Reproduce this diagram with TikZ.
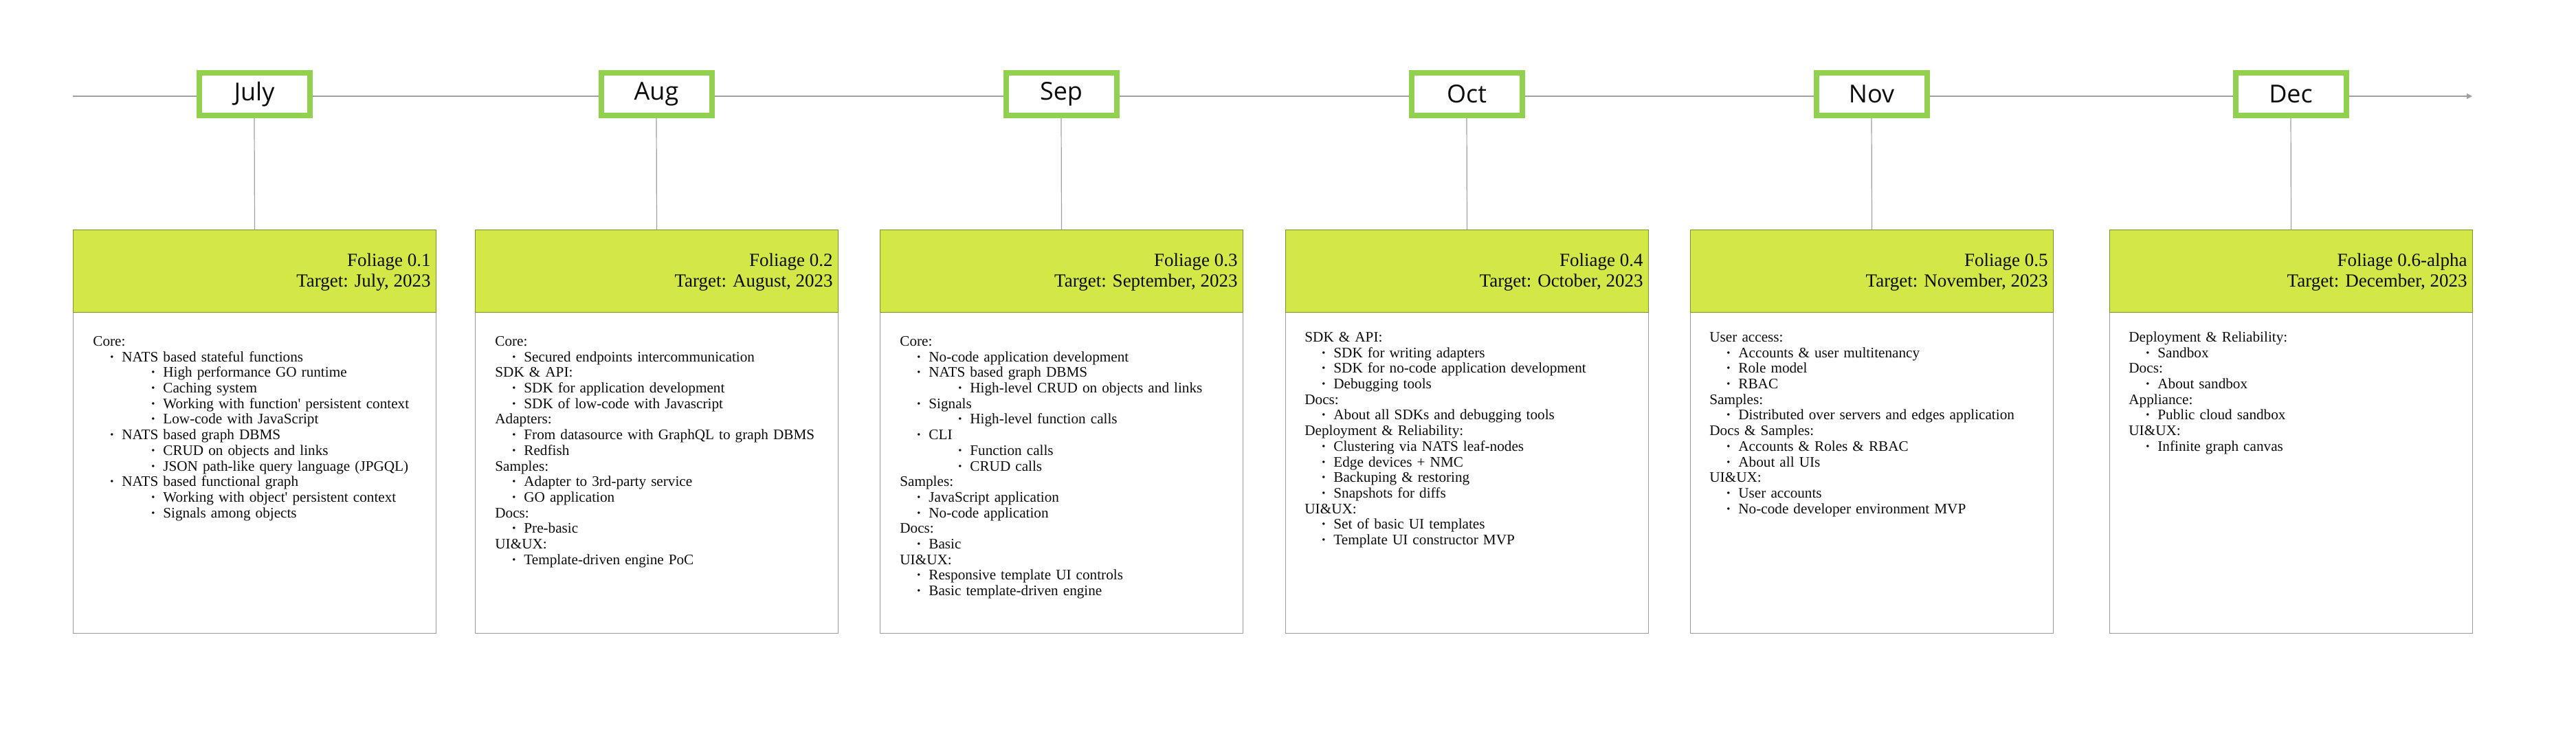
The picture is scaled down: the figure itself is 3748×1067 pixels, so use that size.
\documentclass[tikz,border=0pt]{standalone}
\usepackage{fontspec}
\setmainfont{Liberation Serif}
\newfontfamily\monthfont{Open Sans}
\usetikzlibrary{arrows.meta}
\definecolor{mgreen}{RGB}{146,208,80}
\definecolor{hdrfill}{RGB}{211,232,70}
\definecolor{hdrline}{RGB}{125,145,45}
\definecolor{tline}{RGB}{160,160,160}
\definecolor{cardline}{RGB}{155,155,155}
\definecolor{txt}{RGB}{12,12,12}
\newcommand\Dot{{\bfseries\textperiodcentered}}
\newcommand\Cat[1]{\noindent\rule{0pt}{8pt}#1\par}
\newcommand\Ba[1]{\noindent\rule{0pt}{8pt}\hspace*{12pt}\makebox[9pt][l]{\Dot}#1\par}
\newcommand\Bb[1]{\noindent\rule{0pt}{8pt}\hspace*{42pt}\makebox[9pt][l]{\Dot}#1\par}
\tikzset{
  monthbox/.style={draw=mgreen, line width=4pt, fill=white, minimum width=80.5pt, minimum height=31pt, inner sep=0pt, font=\monthfont\fontsize{18}{20}\selectfont, text=txt},
  cardbox/.style={draw=cardline, line width=0.6pt, fill=white, minimum width=264pt, minimum height=293.5pt, inner sep=0pt},
  hdrbox/.style={draw=hdrline, line width=0.5pt, fill=hdrfill, minimum width=264pt, minimum height=60pt, inner sep=0pt},
  titletext/.style={anchor=north east, align=right, inner sep=0pt, text=txt, font=\fontsize{13.5}{15}\selectfont},
  bodytext/.style={anchor=north west, inner sep=0pt, text=txt, text width=245pt, font=\fontsize{10.6}{11.35}\selectfont},
  conn/.style={draw=tline, line width=0.6pt}
}
\begin{document}
\begin{tikzpicture}[x=0.5pt,y=-0.5pt]
\useasboundingbox (0,0) rectangle (3748,1067);
% timeline
\coordinate (tlstart) at (106,140);
\coordinate (tlend) at (3597,140);
\draw[conn, -{Triangle[length=4pt,width=4pt]}] (tlstart) -- (tlend);
% cards
\foreach \i/\x in {1/106, 2/691, 3/1280, 4/1870, 5/2459, 6/3069}{
  \node[cardbox, anchor=north west] (c\i) at (\x,334) {};
  \node[hdrbox, anchor=north west] (h\i) at (\x,334) {};
}
% month boxes
\node[monthbox] (mJul) at (370,137) {July};
\node[monthbox] (mAug) at (955,137) {Aug};
\node[monthbox] (mSep) at (1544,137) {Sep};
\node[monthbox] (mOct) at (2134,137) {Oct};
\node[monthbox] (mNov) at (2723,137) {Nov};
\node[monthbox] (mDec) at (3333,137) {Dec};
\draw[conn] (mJul.south) -- (h1.north);
\draw[conn] (mAug.south) -- (h2.north);
\draw[conn] (mSep.south) -- (h3.north);
\draw[conn] (mOct.south) -- (h4.north);
\draw[conn] (mNov.south) -- (h5.north);
\draw[conn] (mDec.south) -- (h6.north);
% titles
\node[titletext] (t1) at (627,367) {\rule{0pt}{10pt}Foliage 0.1\\Target: July, 2023};
\node[titletext] (t2) at (1212,367) {\rule{0pt}{10pt}Foliage 0.2\\Target: August, 2023};
\node[titletext] (t3) at (1801,367) {\rule{0pt}{10pt}Foliage 0.3\\Target: September, 2023};
\node[titletext] (t4) at (2391,367) {\rule{0pt}{10pt}Foliage 0.4\\Target: October, 2023};
\node[titletext] (t5) at (2980,367) {\rule{0pt}{10pt}Foliage 0.5\\Target: November, 2023};
\node[titletext] (t6) at (3590,367) {\rule{0pt}{10pt}Foliage 0.6-alpha\\Target: December, 2023};
% bodies
\node[bodytext] (b1) at (135,487) {%
\Cat{Core:}
\Ba{NATS based stateful functions}
\Bb{High performance GO runtime}
\Bb{Caching system}
\Bb{Working with function\textquotesingle{} persistent context}
\Bb{Low-code with JavaScript}
\Ba{NATS based graph DBMS}
\Bb{CRUD on objects and links}
\Bb{JSON path-like query language (JPGQL)}
\Ba{NATS based functional graph}
\Bb{Working with object\textquotesingle{} persistent context}
\Bb{Signals among objects}};
\node[bodytext] (b2) at (720,487) {%
\Cat{Core:}
\Ba{Secured endpoints intercommunication}
\Cat{SDK \& API:}
\Ba{SDK for application development}
\Ba{SDK of low-code with Javascript}
\Cat{Adapters:}
\Ba{From datasource with GraphQL to graph DBMS}
\Ba{Redfish}
\Cat{Samples:}
\Ba{Adapter to 3rd-party service}
\Ba{GO application}
\Cat{Docs:}
\Ba{Pre-basic}
\Cat{UI\&UX:}
\Ba{Template-driven engine PoC}};
\node[bodytext] (b3) at (1309,487) {%
\Cat{Core:}
\Ba{No-code application development}
\Ba{NATS based graph DBMS}
\Bb{High-level CRUD on objects and links}
\Ba{Signals}
\Bb{High-level function calls}
\Ba{CLI}
\Bb{Function calls}
\Bb{CRUD calls}
\Cat{Samples:}
\Ba{JavaScript application}
\Ba{No-code application}
\Cat{Docs:}
\Ba{Basic}
\Cat{UI\&UX:}
\Ba{Responsive template UI controls}
\Ba{Basic template-driven engine}};
\node[bodytext] (b4) at (1898,481) {%
\Cat{SDK \& API:}
\Ba{SDK for writing adapters}
\Ba{SDK for no-code application development}
\Ba{Debugging tools}
\Cat{Docs:}
\Ba{About all SDKs and debugging tools}
\Cat{Deployment \& Reliability:}
\Ba{Clustering via NATS leaf-nodes}
\Ba{Edge devices + NMC}
\Ba{Backuping \& restoring}
\Ba{Snapshots for diffs}
\Cat{UI\&UX:}
\Ba{Set of basic UI templates}
\Ba{Template UI constructor MVP}};
\node[bodytext] (b5) at (2487,481) {%
\Cat{User access:}
\Ba{Accounts \& user multitenancy}
\Ba{Role model}
\Ba{RBAC}
\Cat{Samples:}
\Ba{Distributed over servers and edges application}
\Cat{Docs \& Samples:}
\Ba{Accounts \& Roles \& RBAC}
\Ba{About all UIs}
\Cat{UI\&UX:}
\Ba{User accounts}
\Ba{No-code developer environment MVP}};
\node[bodytext] (b6) at (3097,481) {%
\Cat{Deployment \& Reliability:}
\Ba{Sandbox}
\Cat{Docs:}
\Ba{About sandbox}
\Cat{Appliance:}
\Ba{Public cloud sandbox}
\Cat{UI\&UX:}
\Ba{Infinite graph canvas}};
\end{tikzpicture}
\end{document}
